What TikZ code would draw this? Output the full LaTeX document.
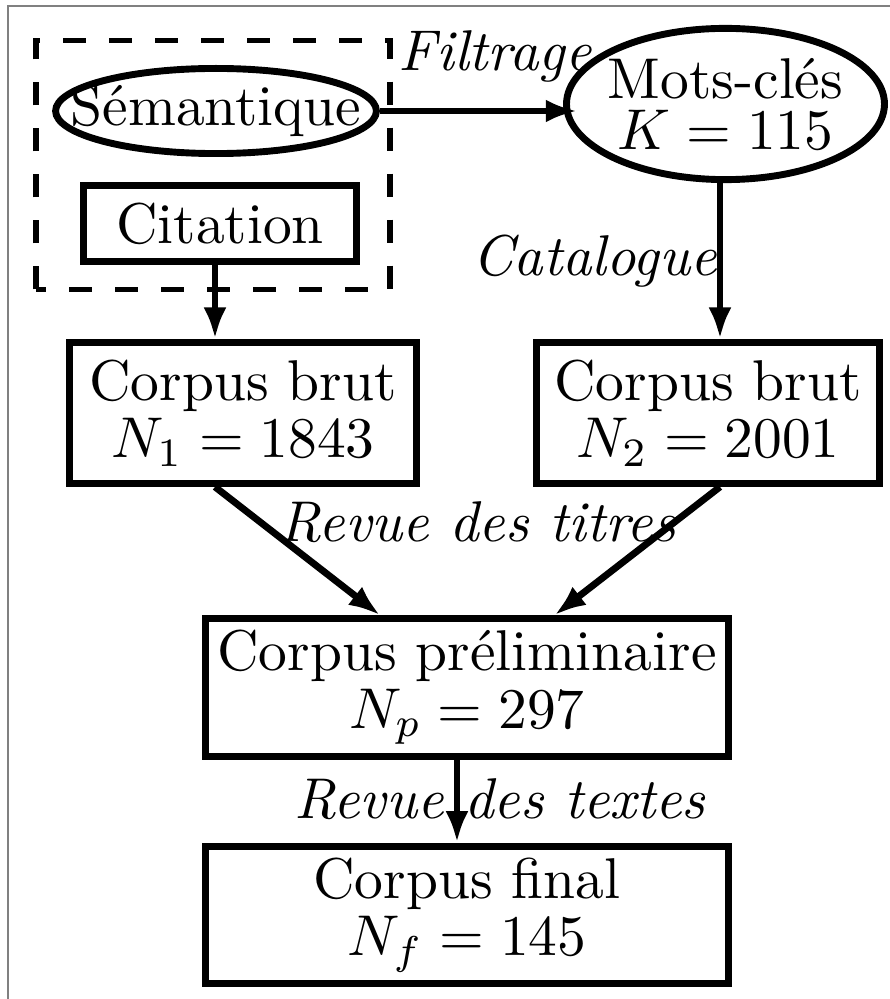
\documentclass[tikz,border=0pt]{standalone}
\usetikzlibrary{shapes.geometric}
\usetikzlibrary{arrows.meta}

\begin{document}
\begin{tikzpicture}[
  boite/.style={draw,very thick,rectangle,align=center,inner sep=2pt},
  bulle/.style={draw,very thick,ellipse},
  fleche/.style={very thick,-{Latex[length=5.5pt,width=4pt]}},
  etiq/.style={font=\itshape}]
\useasboundingbox (0,0) rectangle (5.44,6.1062);
\draw[gray,line width=0.2pt] (0.049,0) -- (0.049,6.0695) -- (5.44,6.0695);
\draw[line width=0.9pt,dash pattern=on 4pt off 4pt] (0.22,4.3367) rectangle (2.3838,5.8586);

\node[bulle,minimum width=55.8pt,minimum height=14.8pt] (sem) at (1.3203,5.4277) {};
\node (semt) at (sem) {Sémantique};
\node[bulle,minimum width=55.3pt,minimum height=26.3pt] (mots) at (4.4345,5.4705) {};
\node[align=center] (motst) at (mots) {Mots-clés\\[-3pt]$K = 115$};
\node[boite,minimum width=47.5pt,minimum height=13.2pt] (cit) at (1.3447,4.7401) {Citation};
\node[boite,minimum width=60.4pt,minimum height=24.5pt] (brut1) at (1.4853,3.5818) {Corpus brut\\[-2pt]$N_1 = 1843$};
\node[boite,minimum width=59.7pt,minimum height=24.5pt] (brut2) at (4.3275,3.5818) {Corpus brut\\[-2pt]$N_2 = 2001$};
\node[boite,minimum width=91pt,minimum height=23pt] (prelim) at (2.8544,1.9040) {Corpus préliminaire\\[-2pt]$N_p = 297$};
\node[boite,minimum width=91pt,minimum height=23.5pt] (final) at (2.8544,0.5134) {Corpus final\\[-2pt]$N_f = 145$};

\coordinate (cl) at ([xshift=-0.87pt]cit.south);
\coordinate (cr) at ([xshift=-0.96pt]mots.south);

\draw[fleche,shorten >=-2.5pt] (sem.east) -- (sem.east -| mots.west) node[etiq,pos=0.63,above,yshift=1pt] (filt) {Filtrage};
\draw[fleche] (cl) -- (cl |- brut1.north);
\draw[fleche] (cr) -- (cr |- brut2.north) node[etiq,pos=0.5,anchor=east,inner sep=0pt] (cata) {Catalogue};
\draw[fleche] (cl |- brut1.south) -- ([xshift=-15.1pt]prelim.north);
\draw[fleche] (cr |- brut2.south) -- ([xshift=15.2pt]prelim.north);
\draw[fleche] ([xshift=-1.74pt]prelim.south) -- ([xshift=-1.74pt]final.north);

\node[etiq] (titres) at (2.9217,2.9156) {Revue des titres};
\node[etiq] (textes) at (3.0562,1.2225) {Revue des textes};

\end{tikzpicture}
\end{document}
